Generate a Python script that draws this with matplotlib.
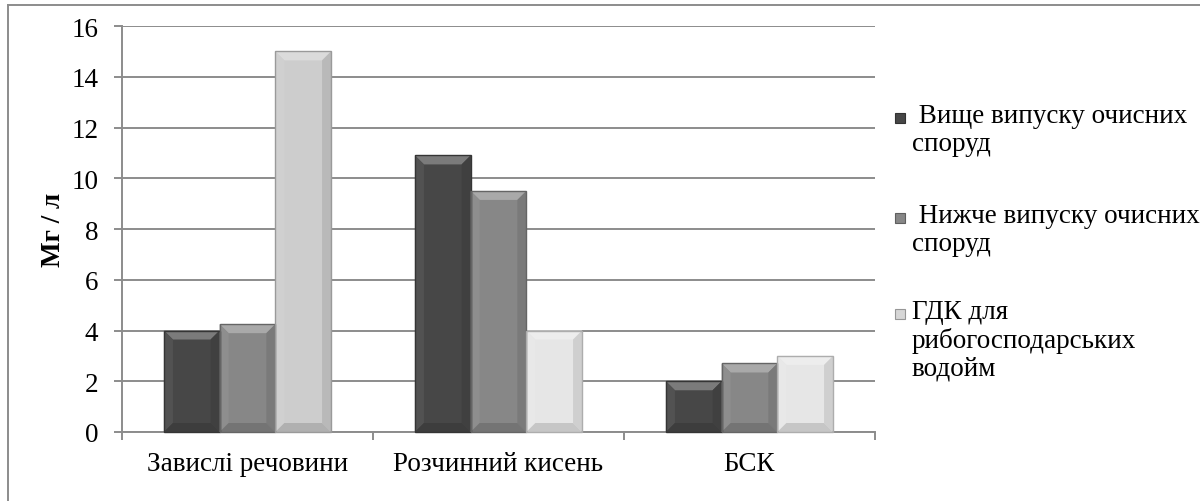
import numpy as np
import matplotlib
matplotlib.use("Agg")
import matplotlib.pyplot as plt
from matplotlib.patches import Polygon, Rectangle
from matplotlib.lines import Line2D
from matplotlib.transforms import IdentityTransform
from matplotlib.colors import to_rgb

categories = ["Завислі речовини", "Розчинний кисень", "БСК"]
series_names = [" Вище випуску очисних\nспоруд",
                " Нижче випуску очисних\nспоруд",
                "ГДК для\nрибогосподарських\nводойм"]
above = [4.0, 10.9, 2.0]
below = [4.25, 9.5, 2.7]
limit = [15.0, 4.0, 3.0]
series_values = [above, below, limit]
series_colors = [["#474747"] * 3, ["#878787"] * 3, ["#cdcdcd", "#e6e6e6", "#e6e6e6"]]
legend_colors = ["#474747", "#878787", "#d6d6d6"]

plt.rcParams['font.family'] = ['Liberation Serif', 'DejaVu Serif']
FS = 19.5

fig = plt.figure(figsize=(12, 5.02), dpi=100)
ax = fig.add_axes([122 / 1200, 69 / 502, 753 / 1200, 406 / 502])

grid_c = "#8c8c8c"
x = np.arange(len(categories))
width = 0.222
ax.set_xlim(-0.5, 2.5)
ax.set_ylim(0, 16)
ax.set_yticks(np.arange(0, 17, 2))
ax.yaxis.grid(True, color=grid_c, linewidth=1.4)
ax.set_axisbelow(True)


def mix(c, t, amt):
    c = np.array(to_rgb(c))
    t = np.array(to_rgb(t))
    return tuple(c + (t - c) * amt)


bars_all = []
for i, vals in enumerate(series_values):
    bars = ax.bar(x + (i - 1) * width, vals, width, color=series_colors[i],
                  edgecolor="none", zorder=2)
    bars_all.append(bars)

# bevel look, computed from each bar's own geometry
for i, bars in enumerate(bars_all):
    for j, b in enumerate(bars):
        face = series_colors[i][j]
        (x0, y0), (x1, y1) = ax.transData.transform(
            [(b.get_x(), 0), (b.get_x() + b.get_width(), b.get_height())])
        d = min(9, (x1 - x0) / 2, (y1 - y0) / 2)
        pieces = [
            ([(x0, y1), (x1, y1), (x1 - d, y1 - d), (x0 + d, y1 - d)], mix(face, "white", 0.28)),
            ([(x0, y0), (x0, y1), (x0 + d, y1 - d), (x0 + d, y0 + d)], mix(face, "white", 0.06)),
            ([(x1, y0), (x1, y1), (x1 - d, y1 - d), (x1 - d, y0 + d)], mix(face, "black", 0.10)),
            ([(x0, y0), (x1, y0), (x1 - d, y0 + d), (x0 + d, y0 + d)], mix(face, "black", 0.14)),
        ]
        for pts, col in pieces:
            fig.add_artist(Polygon(pts, closed=True, facecolor=col, edgecolor="none",
                                   transform=IdentityTransform(), zorder=3))
        fig.add_artist(Polygon([(x0, y0), (x0, y1), (x1, y1), (x1, y0)], closed=True,
                               facecolor="none", edgecolor=mix(face, "black", 0.25),
                               linewidth=1.0, transform=IdentityTransform(), zorder=4))

for s in ["top", "right"]:
    ax.spines[s].set_visible(False)
for s in ["left", "bottom"]:
    ax.spines[s].set_color(grid_c)
    ax.spines[s].set_linewidth(1.4)

ax.set_xticks(x)
ax.set_xticklabels(categories, fontsize=FS)
ax.set_xticks([-0.5, 0.5, 1.5, 2.5], minor=True)
ax.tick_params(axis="x", which="major", length=0, pad=14)
ax.tick_params(axis="x", which="minor", length=6, color=grid_c, width=1.4, direction="out")
ax.tick_params(axis="y", length=6, color=grid_c, width=1.4, labelsize=FS, pad=11)
ax.set_ylabel("Мг / л", fontsize=FS, fontweight="bold", labelpad=3.5)

# legend: marker beside the first line of each entry
y_first = [119, 219, 315]
for name, col, yc in zip(series_names, legend_colors, y_first):
    fig.add_artist(Rectangle((895 / 1200, 1 - (yc + 5) / 502), 10 / 1200, 10 / 502,
                             facecolor=col, edgecolor=mix(col, "black", 0.3), linewidth=0.8))
    fig.text(912 / 1200, 1 - (yc - 15) / 502, name, fontsize=FS, va="top", ha="left",
             linespacing=1.15)

# outer chart frame (top and left edges visible)
fig.add_artist(Line2D([8 / 1200, 1.0], [1 - 6 / 502, 1 - 6 / 502], color=grid_c, linewidth=1.4))
fig.add_artist(Line2D([8 / 1200, 8 / 1200], [0, 1 - 6 / 502], color=grid_c, linewidth=1.4))

fig.savefig("out.png", dpi=100, facecolor="white")
